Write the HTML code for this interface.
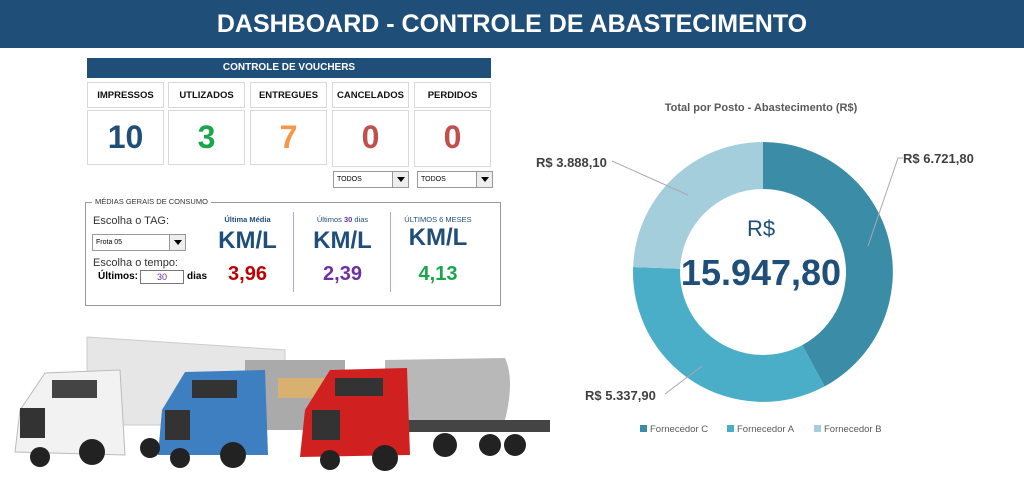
<!DOCTYPE html>
<html><head><meta charset="utf-8"><style>
*{margin:0;padding:0;box-sizing:border-box}
body{width:1024px;height:483px;background:#fff;position:relative;overflow:hidden;font-family:"Liberation Sans",sans-serif}
.a{position:absolute}
.hdr{left:0;top:0;width:1024px;height:48px;background:#1f4e79;color:#fff;font-weight:bold;font-size:25px;text-align:center;line-height:48px}
.bar{left:87px;top:58px;width:404px;height:20px;background:#1f4e79;color:#fff;font-weight:bold;font-size:10px;text-align:center;line-height:20px}
.lb{border:1px solid #d9d9d9;font-weight:bold;font-size:9.5px;text-align:center;line-height:26px;height:26px;width:77px;top:82px;color:#111}
.vb{border:1px solid #d9d9d9;font-weight:bold;font-size:32px;text-align:center;line-height:52px;height:55px;width:77px;top:110px}
.dd{border:1px solid #999;height:17px;width:76px;top:171px;font-size:7px;line-height:15px;padding-left:3px;background:#fff}
.dd b{position:absolute;right:0;top:0;width:16px;height:15px;background:#eee;border-left:1px solid #999}
.dd b:after{content:"";position:absolute;left:4px;top:5px;border:4px solid transparent;border-top:5px solid #000}
.c{text-align:center;color:#1f4e79}
</style></head><body>
<div class="a hdr">DASHBOARD - CONTROLE DE ABASTECIMENTO</div>
<div class="a bar">CONTROLE DE VOUCHERS</div>
<div class="a lb" style="left:87px">IMPRESSOS</div>
<div class="a lb" style="left:168px">UTLIZADOS</div>
<div class="a lb" style="left:250px">ENTREGUES</div>
<div class="a lb" style="left:332px">CANCELADOS</div>
<div class="a lb" style="left:414px">PERDIDOS</div>
<div class="a vb" style="left:87px;color:#1f4e79">10</div>
<div class="a vb" style="left:168px;color:#1aa64a">3</div>
<div class="a vb" style="left:250px;color:#f79646">7</div>
<div class="a vb" style="left:332px;color:#c0504d;height:57px">0</div>
<div class="a vb" style="left:414px;color:#c0504d;height:57px">0</div>
<div class="a dd" style="left:333px">TODOS<b></b></div>
<div class="a dd" style="left:417px">TODOS<b></b></div>

<div class="a" style="left:85px;top:202px;width:416px;height:104px;border:1px solid #999"></div>
<div class="a" style="left:92px;top:197px;background:#fff;padding:0 3px;font-size:7.5px;color:#333">MÉDIAS GERAIS DE CONSUMO</div>
<div class="a" style="left:93px;top:215px;font-size:11px;color:#333">Escolha o TAG:</div>
<div class="a dd" style="left:92px;top:234px;width:94px;height:17px;font-size:7px">Frota 05<b></b></div>
<div class="a" style="left:93px;top:257px;font-size:11px;color:#333">Escolha o tempo:</div>
<div class="a" style="left:98px;top:271px;font-size:10px;font-weight:bold">Últimos:</div>
<div class="a" style="left:140px;top:270px;width:44px;height:14px;border:1px solid #777;font-size:9px;color:#7030a0;text-align:center;line-height:12px">30</div>
<div class="a" style="left:187px;top:271px;font-size:10px;font-weight:bold">dias</div>
<div class="a" style="left:293px;top:212px;width:1px;height:80px;background:#aac"></div>
<div class="a" style="left:390px;top:212px;width:1px;height:80px;background:#aac"></div>
<div class="a c" style="left:205px;top:215px;width:85px;font-size:7.5px;font-weight:bold">Última Média</div>
<div class="a c" style="left:300px;top:215px;width:85px;font-size:7.5px">Últimos <b style="color:#7030a0">30</b> dias</div>
<div class="a c" style="left:390px;top:215px;width:96px;font-size:7.5px">ÚLTIMOS 6 MESES</div>
<div class="a c" style="left:205px;top:227px;width:85px;font-size:24px;font-weight:bold">KM/L</div>
<div class="a c" style="left:300px;top:227px;width:85px;font-size:24px;font-weight:bold">KM/L</div>
<div class="a c" style="left:390px;top:224px;width:96px;font-size:24px;font-weight:bold">KM/L</div>
<div class="a c" style="left:205px;top:263px;width:85px;font-size:20px;font-weight:bold;color:#c00000">3,96</div>
<div class="a c" style="left:300px;top:263px;width:85px;font-size:20px;font-weight:bold;color:#7030a0">2,39</div>
<div class="a c" style="left:390px;top:263px;width:96px;font-size:20px;font-weight:bold;color:#1aa64a">4,13</div>

<svg class="a" style="left:0;top:320px" width="560" height="163" viewBox="0 320 560 163">
<polygon points="87,337 285,350 285,425 87,425" fill="#e6e6e6" stroke="#ccc"/>
<rect x="245" y="360" width="100" height="70" fill="#aaa"/>
<rect x="278" y="378" width="55" height="20" fill="#d8b070"/>
<path d="M385,360 L505,358 Q515,380 505,420 L385,420 Z" fill="#b8b8b8"/>
<rect x="400" y="420" width="150" height="12" fill="#444"/>
<path d="M20,410 L45,373 L120,370 L125,455 L15,452 Z" fill="#f2f2f2" stroke="#bbb"/>
<rect x="52" y="380" width="45" height="18" fill="#444"/>
<rect x="20" y="408" width="25" height="30" fill="#333"/>
<path d="M162,410 L185,372 L265,370 L268,455 L158,455 Z" fill="#3d7fc0"/>
<rect x="192" y="380" width="45" height="18" fill="#333"/>
<rect x="165" y="410" width="25" height="30" fill="#333"/>
<path d="M305,410 L330,370 L407,368 L410,455 L300,457 Z" fill="#d02020"/>
<rect x="335" y="378" width="48" height="18" fill="#333"/>
<rect x="312" y="410" width="28" height="30" fill="#333"/>
<g fill="#222"><circle cx="92" cy="452" r="13"/><circle cx="40" cy="457" r="10"/><circle cx="233" cy="455" r="13"/><circle cx="180" cy="458" r="10"/><circle cx="385" cy="458" r="13"/><circle cx="330" cy="460" r="10"/><circle cx="445" cy="445" r="12"/><circle cx="490" cy="445" r="11"/><circle cx="515" cy="445" r="11"/><circle cx="150" cy="448" r="10"/></g>
</svg>

<svg class="a" style="left:0;top:0" width="1024" height="483">
<text x="761" y="111" text-anchor="middle" font-size="11" font-weight="bold" fill="#595959" font-family="Liberation Sans">Total por Posto - Abastecimento (R$)</text>
<path d="M763,142 A130,130 0 0 1 824.6,386.4 L802.3,345.1 A83,83 0 0 0 763,189 Z" fill="#3b8ca6"/>
<path d="M824.6,386.4 A130,130 0 0 1 633.1,267 L680.1,268.8 A83,83 0 0 0 802.3,345.1 Z" fill="#4aaec9"/>
<path d="M633.1,267 A130,130 0 0 1 763,142 L763,189 A83,83 0 0 0 680.1,268.8 Z" fill="#a5cedd"/>
<g stroke="#aaa" fill="none"><path d="M612,161 L688,195"/><path d="M868,246 L898,158 L903,158"/><path d="M665,394 L702,366"/></g>
<g font-family="Liberation Sans" font-weight="bold" font-size="13" fill="#404040">
<text x="536" y="167">R$ 3.888,10</text><text x="903" y="163">R$ 6.721,80</text><text x="585" y="400">R$ 5.337,90</text></g>
<text x="761" y="236" text-anchor="middle" font-size="22" fill="#1f4e79" font-family="Liberation Sans">R$</text>
<text x="761" y="285" text-anchor="middle" font-size="36" font-weight="bold" fill="#1f4e79" font-family="Liberation Sans">15.947,80</text>
<g font-family="Liberation Sans" font-size="9.5" fill="#595959">
<rect x="640" y="425" width="7" height="7" fill="#3b8ca6"/><text x="650" y="432">Fornecedor C</text>
<rect x="727" y="425" width="7" height="7" fill="#4aaec9"/><text x="737" y="432">Fornecedor A</text>
<rect x="814" y="425" width="7" height="7" fill="#a5cedd"/><text x="824" y="432">Fornecedor B</text></g>
</svg>
</body></html>
